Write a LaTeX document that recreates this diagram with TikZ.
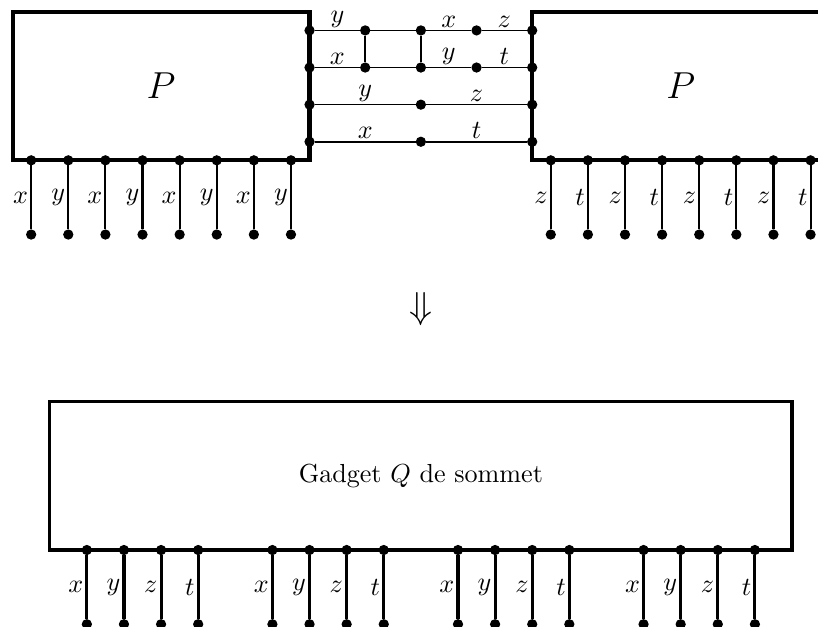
\documentclass[tikz,border=0pt]{standalone}
\usepackage{tikz}
\tikzset{
    pbox/.style={draw, ultra thick, minimum width=4cm, minimum height=2cm, inner sep=0pt},
    qbox/.style={draw, very thick, minimum width=10cm, minimum height=2cm, inner sep=0pt},
    dot/.style={shape=circle, draw=black, fill=black, inner sep=0pt, minimum size=3.5pt},
    leg/.style={thick},
    qleg/.style={very thick},
    wire/.style={semithick},
    lab/.style={inner sep=0.8pt}
}

\begin{document}
\begin{tikzpicture}
    \useasboundingbox (-0.17,-6.274) rectangle (10.85,2.16);

    \node[pbox] (P1) at (2,1) {\Large $P$};
    \node[pbox] (P2) at (9,1) {\Large $P$};

    % legs under the two P
    \foreach \i/\v in {1/x,2/y,3/x,4/y,5/x,6/y,7/x,8/y} {
        \node[dot] (a\i) at (\i/2-0.25,0) {};
        \node[dot] (b\i) at (\i/2-0.25,-1) {};
        \path [leg](a\i) edge node[left,lab] {$\v$} (b\i);
    }
    \foreach \i/\v in {1/z,2/t,3/z,4/t,5/z,6/t,7/z,8/t} {
        \node[dot] (c\i) at (6.75+\i/2,0) {};
        \node[dot] (d\i) at (6.75+\i/2,-1) {};
        \path [leg](c\i) edge node[left,lab] {$\v$} (d\i);
    }

    % wires between the two P
    \foreach \r/\h in {1/1.75,2/1.25,3/0.75,4/0.25} {
        \node[dot] (L\r) at (4,\h) {};
        \node[dot] (R\r) at (7,\h) {};
    }
    \node[dot] (u1) at (4.75,1.75) {};
    \node[dot] (v1) at (5.5,1.75) {};
    \node[dot] (w1) at (6.25,1.75) {};
    \node[dot] (u2) at (4.75,1.25) {};
    \node[dot] (v2) at (5.5,1.25) {};
    \node[dot] (w2) at (6.25,1.25) {};
    \node[dot] (v3) at (5.5,0.75) {};
    \node[dot] (v4) at (5.5,0.25) {};

    \path [wire](L1) edge node[above,lab] {$y$} (u1);
    \path [wire](u1) edge (v1);
    \path [wire](v1) edge node[above,lab] {$x$} (w1);
    \path [wire](w1) edge node[above,lab] {$z$} (R1);
    \path [wire](L2) edge node[above,lab] {$x$} (u2);
    \path [wire](u2) edge (v2);
    \path [wire](v2) edge node[above,lab] {$y$} (w2);
    \path [wire](w2) edge node[above,lab] {$t$} (R2);
    \path [wire](u1) edge (u2);
    \path [wire](v1) edge (v2);
    \path [wire](L3) edge node[above,lab] {$y$} (v3);
    \path [wire](v3) edge node[above,lab] {$z$} (R3);
    \path [wire](L4) edge node[above,lab] {$x$} (v4);
    \path [wire](v4) edge node[above,lab] {$t$} (R4);

    \node (arr) at (5.5,-2) {\Large $\Downarrow$};

    \node[qbox] (Q) at (5.5,-4.25) {Gadget $Q$ de sommet};

    % legs under Q
    \foreach \g in {0,1,2,3} {
        \foreach \i/\v in {0/x,1/y,2/z,3/t} {
            \node[dot] (e\g\i) at (1+2.5*\g+\i/2,-5.25) {};
            \node[dot] (f\g\i) at (1+2.5*\g+\i/2,-6.25) {};
            \path [qleg](e\g\i) edge node[left,lab] {$\v$} (f\g\i);
        }
    }
\end{tikzpicture}
\end{document}
